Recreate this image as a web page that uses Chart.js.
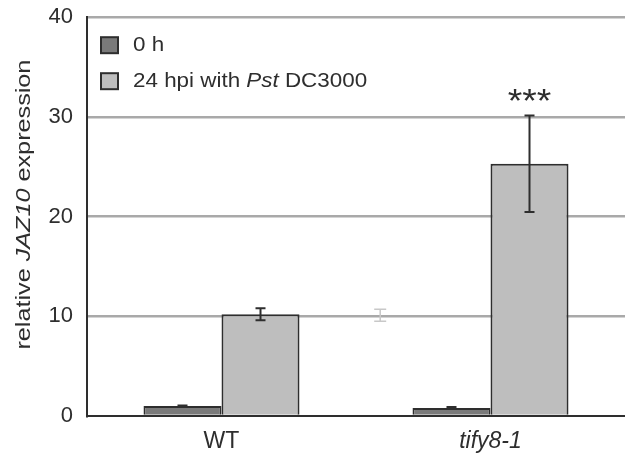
<!DOCTYPE html>
<html>
<head>
<meta charset="utf-8">
<script src="https://cdn.jsdelivr.net/npm/chart.js@4/dist/chart.umd.min.js"></script>
<style>
  html, body { margin: 0; padding: 0; background: #fff; overflow: hidden; }
  #wrap { width: 625px; height: 467px; margin-top: -10px; }
</style>
</head>
<body>
<div id="wrap"><canvas id="jazChart"></canvas></div>
<script>
// data
const categories = ['WT', 'tify8-1'];
const seriesNames = ['0 h', '24 hpi with Pst DC3000'];
const mock = [1.0, 0.8];
const mockErr = [0.05, 0.1];
const infected = [10.2, 25.3];
const infectedErr = [0.6, 4.85];
const yTicks = [0, 10, 20, 30, 40];
const marks = ['', '***'];
// faint leftover error bar between the groups (category index, value, error)
const ghostBar = { at: 0.59, value: 10.1, err: 0.6 };

const ink = '#2e2e2e';
const dark = '#7a7a7a';
const light = '#bebebe';
const fontFam = '"Liberation Sans", Arial, sans-serif';

// error bars + significance stars
const errorBars = {
  id: 'errorBars',
  afterDatasetsDraw(chart) {
    const ctx = chart.ctx;
    const y = chart.scales.y;
    const x = chart.scales.x;
    ctx.save();
    chart.data.datasets.forEach((ds, di) => {
      const meta = chart.getDatasetMeta(di);
      meta.data.forEach((bar, i) => {
        const v = ds.data[i], e = ds.errors[i];
        const yt = y.getPixelForValue(v + e), yb = y.getPixelForValue(v - e);
        ctx.strokeStyle = ink;
        ctx.lineWidth = 2;
        ctx.beginPath();
        ctx.moveTo(bar.x, yt); ctx.lineTo(bar.x, yb);
        ctx.moveTo(bar.x - 5, yt); ctx.lineTo(bar.x + 5, yt);
        ctx.moveTo(bar.x - 5, yb); ctx.lineTo(bar.x + 5, yb);
        ctx.stroke();
        if (ds.marks && ds.marks[i]) {
          ctx.save();
          ctx.fillStyle = ink;
          ctx.font = '34px ' + fontFam;
          ctx.textAlign = 'center';
          ctx.textBaseline = 'alphabetic';
          ctx.translate(bar.x, yt - 3);
          ctx.scale(1.1, 1);
          ctx.fillText(ds.marks[i], 0, 0);
          ctx.restore();
        }
      });
    });
    // faint ghost error bar
    const gx = x.getPixelForValue(ghostBar.at);
    const gt = y.getPixelForValue(ghostBar.value + ghostBar.err);
    const gb = y.getPixelForValue(ghostBar.value - ghostBar.err);
    ctx.strokeStyle = '#c8c8c8';
    ctx.lineWidth = 1.5;
    ctx.beginPath();
    ctx.moveTo(gx, gt); ctx.lineTo(gx, gb);
    ctx.moveTo(gx - 6, gt); ctx.lineTo(gx + 6, gt);
    ctx.moveTo(gx - 6, gb); ctx.lineTo(gx + 6, gb);
    ctx.stroke();
    ctx.restore();
  }
};

// draws a run of [text, italic] parts, stretched a bit horizontally
function drawParts(ctx, parts, size, stretch) {
  let cx = 0;
  ctx.scale(stretch, 1);
  parts.forEach(([t, it]) => {
    ctx.font = (it ? 'italic ' : '') + size + 'px ' + fontFam;
    ctx.fillText(t, cx, 0);
    cx += ctx.measureText(t).width;
  });
  return cx * stretch;
}
function partsWidth(ctx, parts, size, stretch) {
  let w = 0;
  parts.forEach(([t, it]) => {
    ctx.font = (it ? 'italic ' : '') + size + 'px ' + fontFam;
    w += ctx.measureText(t).width;
  });
  return w * stretch;
}

// legend and y title with mixed italics
const labels = {
  id: 'labels',
  afterDraw(chart) {
    const ctx = chart.ctx;
    const area = chart.chartArea;
    const cols = [dark, light];
    const legendParts = [
      [[seriesNames[0], false]],
      [['24 hpi with ', false], ['Pst', true], [' DC3000', false]]
    ];
    ctx.save();
    legendParts.forEach((parts, i) => {
      const top = area.top + 20 + i * 36;
      ctx.fillStyle = cols[i];
      ctx.fillRect(area.left + 14, top, 17, 16);
      ctx.strokeStyle = ink;
      ctx.lineWidth = 2;
      ctx.strokeRect(area.left + 14, top, 17, 16);
      ctx.save();
      ctx.fillStyle = ink;
      ctx.textBaseline = 'middle';
      ctx.textAlign = 'left';
      ctx.translate(area.left + 46, top + 8);
      drawParts(ctx, parts, 20, 1.12);
      ctx.restore();
    });

    const title = [['relative ', false], ['JAZ10', true], [' expression', false]];
    const w = partsWidth(ctx, title, 21, 1.2);
    const mid = (area.top + area.bottom) / 2 - 12;
    ctx.save();
    ctx.fillStyle = ink;
    ctx.textBaseline = 'middle';
    ctx.textAlign = 'left';
    ctx.translate(24, mid + w / 2);
    ctx.rotate(-Math.PI / 2);
    drawParts(ctx, title, 21, 1.2);
    ctx.restore();
    ctx.restore();
  }
};

new Chart(document.getElementById('jazChart').getContext('2d'), {
  type: 'bar',
  data: {
    labels: categories,
    datasets: [
      {
        label: seriesNames[0],
        data: mock,
        errors: mockErr,
        backgroundColor: dark,
        borderColor: ink,
        borderWidth: 2
      },
      {
        label: seriesNames[1],
        data: infected,
        errors: infectedErr,
        marks: marks,
        backgroundColor: light,
        borderColor: ink,
        borderWidth: 2
      }
    ]
  },
  options: {
    responsive: true,
    maintainAspectRatio: false,
    animation: false,
    layout: { padding: { top: 4, right: 0, left: 0, bottom: 0 } },
    datasets: { bar: { categoryPercentage: 0.58, barPercentage: 1.0 } },
    plugins: {
      legend: { display: false },
      tooltip: { enabled: false }
    },
    scales: {
      x: {
        grid: { display: false, drawTicks: false },
        border: { color: ink, width: 2 },
        afterFit: s => { s.height = 41; },
        ticks: {
          color: ink,
          padding: 12,
          font: c => ({ family: fontFam, size: 23, style: c.index === 1 ? 'italic' : 'normal' })
        }
      },
      y: {
        min: yTicks[0],
        max: yTicks[yTicks.length - 1],
        afterFit: s => { s.width = 87; },
        afterBuildTicks: s => { s.ticks = yTicks.map(v => ({ value: v })); },
        border: { color: ink, width: 2 },
        grid: {
          drawTicks: false,
          lineWidth: 2.5,
          color: c => (c.tick && c.tick.value === 0 ? 'rgba(0,0,0,0)' : '#a9a9a9')
        },
        ticks: {
          color: ink,
          padding: 14,
          font: { family: fontFam, size: 22 }
        }
      }
    }
  },
  plugins: [errorBars, labels]
});
</script>
</body>
</html>
